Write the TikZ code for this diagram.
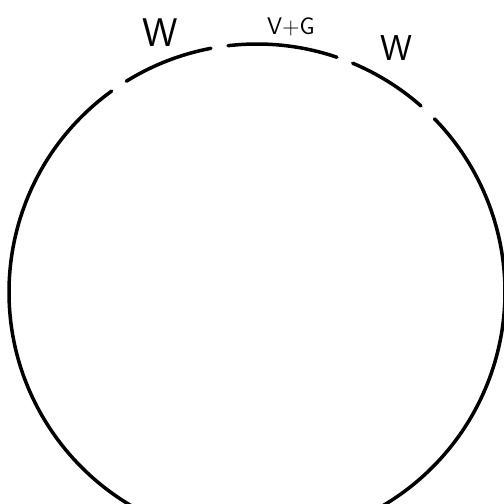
\documentclass[tikz,border=0pt]{standalone}
\usepackage{tikz}
\begin{document}
\begin{tikzpicture}[
    x=1pt, y=1pt,
    seg/.style={line width=3.5pt, line cap=round},
    lbl/.style={font=\sffamily, inner sep=0pt}
]
\useasboundingbox (0,0) rectangle (504,504);
\clip (0,0) rectangle (504,504);
\coordinate (c) at (257,212);

% circle pieces
\draw[seg] ([shift={(125.9:248)}]c) arc[start angle=125.9, end angle=250, radius=248];
\draw[seg] ([shift={(121.8:248)}]c) arc[start angle=121.8, end angle=100.7, radius=248];
\draw[seg] ([shift={(96.7:248)}]c) arc[start angle=96.7, end angle=71.2, radius=248];
\draw[seg] ([shift={(67.3:248)}]c) arc[start angle=67.3, end angle=48.6, radius=248];
\draw[seg] ([shift={(44.3:248)}]c) arc[start angle=44.3, end angle=-70, radius=248];

% labels
\node[lbl, font=\sffamily\fontsize{40}{40}\selectfont] (wleft) at (160,471) {W};
\node[lbl, font=\sffamily\fontsize{24}{24}\selectfont] (vg) at (291,477) {V+G};
\node[lbl, font=\sffamily\fontsize{36}{36}\selectfont] (wright) at (396,456) {W};

\end{tikzpicture}
\end{document}
